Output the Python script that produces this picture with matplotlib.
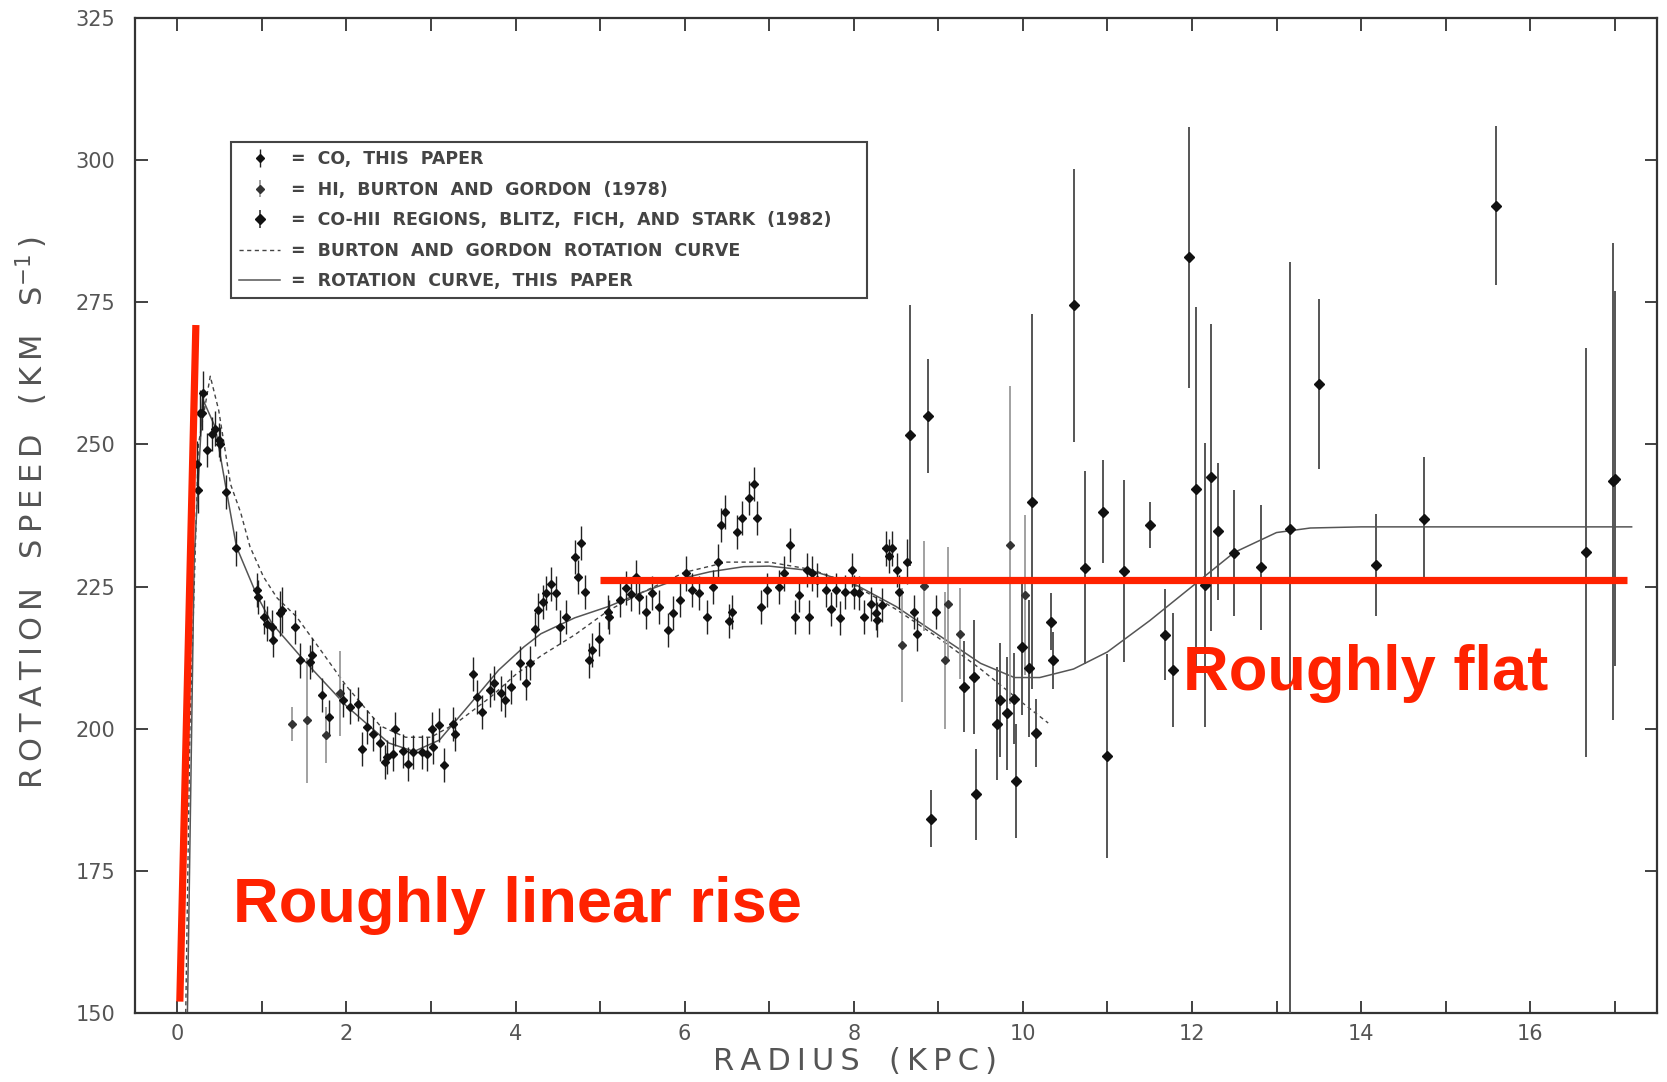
import matplotlib
matplotlib.use("Agg")
import matplotlib.pyplot as plt
from matplotlib.ticker import MultipleLocator

# ---------------- data ----------------
# CO, this paper
co_x = [0.23, 0.25, 0.27, 0.29, 0.31, 0.35, 0.41, 0.45, 0.49, 0.51, 0.58, 0.70, 0.94, 0.96,
        1.03, 1.06, 1.12, 1.13, 1.22, 1.24, 1.39, 1.45, 1.57, 1.59, 1.71, 1.79, 1.96, 2.04,
        2.14, 2.18, 2.24, 2.32, 2.40, 2.46, 2.48, 2.55, 2.57, 2.67, 2.73, 2.79, 2.89, 2.95,
        3.01, 3.03, 3.09, 3.16, 3.26, 3.28, 3.50, 3.54, 3.60, 3.70, 3.75, 3.83, 3.87, 3.95,
        4.05, 4.13, 4.17, 4.23, 4.27, 4.32, 4.36, 4.42, 4.48, 4.53, 4.60, 4.70, 4.74, 4.78,
        4.82, 4.87, 4.91, 4.99, 5.09, 5.11, 5.23, 5.31, 5.37, 5.43, 5.46, 5.54, 5.62, 5.70,
        5.80, 5.86, 5.94, 6.02, 6.09, 6.17, 6.27, 6.33, 6.39, 6.43, 6.48, 6.53, 6.56, 6.62,
        6.68, 6.76, 6.82, 6.86, 6.90, 6.98, 7.12, 7.18, 7.25, 7.31, 7.35, 7.45, 7.47, 7.51,
        7.57, 7.67, 7.73, 7.79, 7.84, 7.90, 7.98, 8.00, 8.06, 8.12, 8.20, 8.26, 8.28, 8.34,
        8.38, 8.42, 8.45, 8.51, 8.53, 8.63, 8.71, 8.75, 8.97]
co_v = [246.6, 242.0, 255.5, 255.5, 259.0, 249.0, 251.9, 252.8, 250.8, 250.0, 241.7, 231.7, 224.4, 223.2,
        219.7, 218.5, 217.9, 215.6, 220.3, 220.9, 217.9, 212.0, 211.8, 212.9, 205.9, 202.1, 205.0, 203.9,
        204.4, 196.5, 200.3, 199.1, 197.4, 194.2, 195.0, 195.6, 200.0, 196.1, 193.8, 195.9, 195.9, 195.6,
        200.0, 196.8, 200.6, 193.6, 200.9, 199.0, 209.7, 205.6, 203.0, 206.8, 208.0, 206.2, 205.0, 207.4,
        211.5, 208.0, 211.5, 217.6, 220.8, 222.3, 223.8, 225.5, 223.8, 217.9, 219.7, 230.2, 226.7, 232.6,
        224.0, 212.0, 213.8, 215.8, 220.6, 219.7, 222.6, 224.7, 223.7, 226.7, 223.2, 220.6, 223.8, 221.4,
        217.3, 220.3, 222.6, 227.3, 224.4, 223.8, 219.7, 225.0, 229.4, 235.8, 238.1, 219.0, 220.5, 234.6,
        237.0, 240.5, 243.1, 237.0, 221.4, 224.4, 225.0, 227.3, 232.3, 219.7, 223.5, 227.9, 219.7, 227.3,
        226.1, 224.4, 221.1, 224.4, 219.4, 224.1, 227.9, 224.1, 223.8, 219.7, 222.0, 220.3, 219.2, 221.7,
        231.7, 230.3, 231.7, 227.9, 224.1, 229.4, 220.5, 216.7, 220.5]
co_err = [4, 4, 4, 3, 4, 3, 3, 3, 3, 3, 3, 3, 3, 3,
          3, 3, 3, 3, 4, 4, 3, 3, 3, 3, 3, 3, 3, 3,
          3, 3, 3, 3, 3, 3, 3, 3, 3, 3, 3, 3, 3, 3,
          3, 3, 3, 3, 3, 3, 3, 3, 3, 3, 3, 3, 3, 3,
          3, 3, 3, 3, 3, 3, 3, 3, 3, 3, 3, 3, 3, 3,
          3, 3, 3, 3, 3, 3, 3, 3, 3, 3, 3, 3, 3, 3,
          3, 3, 3, 3, 3, 3, 3, 3, 3, 3, 3, 3, 3, 3,
          3, 3, 3, 3, 3, 3, 3, 3, 3, 3, 3, 3, 3, 3,
          3, 3, 3, 3, 3, 3, 3, 3, 3, 3, 3, 3, 3, 3,
          3, 3, 3, 3, 3, 4, 3, 3, 3]

# HI, Burton and Gordon (1978)
hi_x = [1.36, 1.54, 1.76, 1.93, 8.57, 8.83, 9.08, 9.12, 9.26, 9.85, 10.03]
hi_v = [200.9, 201.5, 198.9, 206.2, 214.7, 225.1, 212.0, 222.0, 216.7, 232.3, 223.5]
hi_err = [3, 11, 5, 7.5, 10, 8, 12, 10, 8, 28, 14]

# CO-HII regions, Blitz, Fich, and Stark (1982)
hii_x = [8.66, 8.88, 8.91, 9.30, 9.42, 9.45, 9.69, 9.73, 9.81, 9.89, 9.92, 9.99, 10.07,
         10.11, 10.15, 10.33, 10.36, 10.61, 10.74, 10.95, 10.99, 11.20, 11.50, 11.68, 11.78,
         11.96, 12.05, 12.16, 12.22, 12.31, 12.50, 12.82, 13.16, 13.50, 14.18, 14.74, 15.60,
         16.66, 16.98, 17.00]
hii_v = [251.6, 255.0, 184.2, 207.4, 209.1, 188.5, 200.9, 205.0, 202.7, 205.3, 190.8, 214.4, 210.6,
         239.9, 199.2, 218.8, 212.0, 274.5, 228.3, 238.2, 195.2, 227.7, 235.8, 216.5, 210.3,
         282.9, 242.1, 225.3, 244.2, 234.7, 230.9, 228.4, 235.1, 260.6, 228.8, 236.8, 292.0,
         231.0, 243.5, 244.0]
hii_err_lo = [23, 10, 5, 8, 10, 8, 10, 10, 10, 8, 10, 12, 12,
              33, 6, 5, 5, 24, 17, 9, 18, 16, 4, 8, 10,
              23, 32, 25, 27, 12, 11, 11, 90, 15, 9, 11, 14,
              36, 42, 33]
hii_err_hi = [23, 10, 5, 8, 10, 8, 10, 10, 10, 8, 10, 12, 12,
              33, 6, 5, 5, 24, 17, 9, 18, 16, 4, 8, 10,
              23, 32, 25, 27, 12, 11, 11, 47, 15, 9, 11, 14,
              36, 42, 33]

# Burton and Gordon rotation curve
bg_r = [0.10, 0.15, 0.25, 0.39, 0.49, 0.63, 0.75, 0.86, 1.02, 1.18, 1.41, 1.61, 2.0, 2.4, 2.7,
        3.0, 3.3, 3.7, 4.0, 4.3, 4.7, 5.1, 5.5, 6.0, 6.5, 7.0, 7.5, 8.0, 8.5, 9.0, 9.5, 10.0, 10.3]
bg_v = [150.0, 200.0, 250.0, 262.0, 256.0, 243.0, 238.0, 232.0, 226.7, 223.0, 219.7, 215.6, 207.5,
        200.5, 198.5, 198.5, 201.0, 205.5, 209.5, 212.8, 216.5, 220.8, 224.0, 227.5, 229.3, 229.3,
        228.0, 225.3, 221.0, 216.0, 210.5, 204.5, 201.0]

# Rotation curve, this paper
rc_r = [0.12, 0.20, 0.30, 0.45, 0.58, 0.70, 0.94, 1.12, 1.5, 2.0, 2.5, 2.8, 3.1, 3.5, 3.8, 4.1,
        4.3, 4.7, 5.1, 5.5, 5.9, 6.3, 6.7, 7.0, 7.5, 8.0, 8.5, 9.0, 9.5, 9.9, 10.2, 10.6, 11.0,
        11.5, 12.0, 12.5, 13.0, 13.4, 14.0, 17.2]
rc_v = [150.0, 230.0, 258.0, 253.0, 242.0, 232.0, 223.5, 218.5, 212.0, 204.0, 197.5, 196.0, 198.0,
        205.0, 210.3, 214.4, 216.7, 219.5, 221.5, 224.0, 226.2, 227.6, 228.5, 228.6, 227.8, 225.5,
        221.5, 216.5, 211.5, 209.0, 209.0, 210.5, 213.5, 219.0, 225.0, 231.0, 234.5, 235.3, 235.5,
        235.5]

# red annotations
rise_r = [0.03, 0.22]
rise_v = [152.0, 271.0]
flat_r = [5.0, 17.15]
flat_v = [226.2, 226.2]

x_ticks = [0, 2, 4, 6, 8, 10, 12, 14, 16]
y_ticks = [150, 175, 200, 225, 250, 275, 300, 325]

# ---------------- figure ----------------
plt.rcParams['font.family'] = ['DejaVu Sans']
fig = plt.figure(figsize=(16.67, 10.82), dpi=100)
ax = fig.add_axes([135 / 1667, 1 - 1013 / 1082, 1522 / 1667, 995 / 1082])

grey_text = '#555555'

h_co = ax.errorbar(co_x, co_v, yerr=co_err, fmt='D', ms=4.5, color='#111111',
                   ecolor='#222222', elinewidth=1.0, capsize=0, zorder=4,
                   label='=  CO,  THIS  PAPER')
h_hi = ax.errorbar(hi_x, hi_v, yerr=hi_err, fmt='D', ms=4.5, color='#333333',
                   ecolor='#9a9a9a', elinewidth=1.3, capsize=0, zorder=3,
                   label='=  HI,  BURTON  AND  GORDON  (1978)')
h_hii = ax.errorbar(hii_x, hii_v, yerr=[hii_err_lo, hii_err_hi], fmt='D', ms=5,
                    color='#111111', ecolor='#555555', elinewidth=1.4, capsize=0, zorder=3,
                    label='=  CO-HII  REGIONS,  BLITZ,  FICH,  AND  STARK  (1982)')
h_bg, = ax.plot(bg_r, bg_v, color='#444444', lw=1.0, dashes=(3, 2.5), zorder=2,
                label='=  BURTON  AND  GORDON  ROTATION  CURVE')
h_rc, = ax.plot(rc_r, rc_v, color='#555555', lw=1.1, zorder=2,
                label='=  ROTATION  CURVE,  THIS  PAPER')

red = '#ff2200'
ax.plot(rise_r, rise_v, color=red, lw=5.2, solid_capstyle='butt', zorder=6)
ax.plot(flat_r, flat_v, color=red, lw=5.2, solid_capstyle='butt', zorder=6)
ax.text(0.657, 166.0, 'Roughly linear rise', color=red, fontsize=45.5,
        fontweight='bold', family='Liberation Sans', ha='left', va='baseline', zorder=7)
ax.text(11.9, 206.8, 'Roughly flat', color=red, fontsize=45.5,
        fontweight='bold', family='Liberation Sans', ha='left', va='baseline', zorder=7)

ax.set_xlim(-0.5, 17.5)
ax.set_ylim(150, 325)
ax.set_xticks(x_ticks)
ax.xaxis.set_minor_locator(MultipleLocator(1))
ax.set_yticks(y_ticks)

for s in ax.spines.values():
    s.set_color('#333333')
    s.set_linewidth(1.6)
ax.tick_params(which='both', direction='in', length=9, width=1.3, color='#333333',
               top=True, right=True)
ax.tick_params(axis='y', which='major', labelsize=15, labelcolor=grey_text, pad=14)
ax.tick_params(axis='x', which='major', labelsize=15, labelcolor=grey_text, pad=8)

def spaced(s):
    return '\u2009'.join(s)

ylab = (spaced('ROTATION') + '   ' + spaced('SPEED') + '   ' + spaced('(KM') + '   '
        + 'S$^{-1}$' + '\u2009)')
fig.text(32 / 1667, 1 - 513 / 1082, ylab, rotation=90, ha='center', va='center',
         fontsize=22, color=grey_text)
xlab = spaced('RADIUS') + '   ' + spaced('(KPC)')
fig.text(855 / 1667, 1 - 1061 / 1082, xlab, ha='center', va='center',
         fontsize=22, color=grey_text)

leg = ax.legend(handles=[h_co, h_hi, h_hii, h_bg, h_rc],
                loc='upper left', bbox_to_anchor=(0.063, 0.5, 0.418, 0.375),
                mode='expand', borderaxespad=0, fancybox=False, framealpha=1,
                edgecolor='#444444', labelspacing=0.72,
                handlelength=2.4, handletextpad=0.6, borderpad=0.45,
                prop={'weight': 'bold', 'size': 12.5})
leg.get_frame().set_linewidth(1.5)
for t in leg.get_texts():
    t.set_color('#444444')

fig.savefig('out.png', dpi=100, facecolor='white')
